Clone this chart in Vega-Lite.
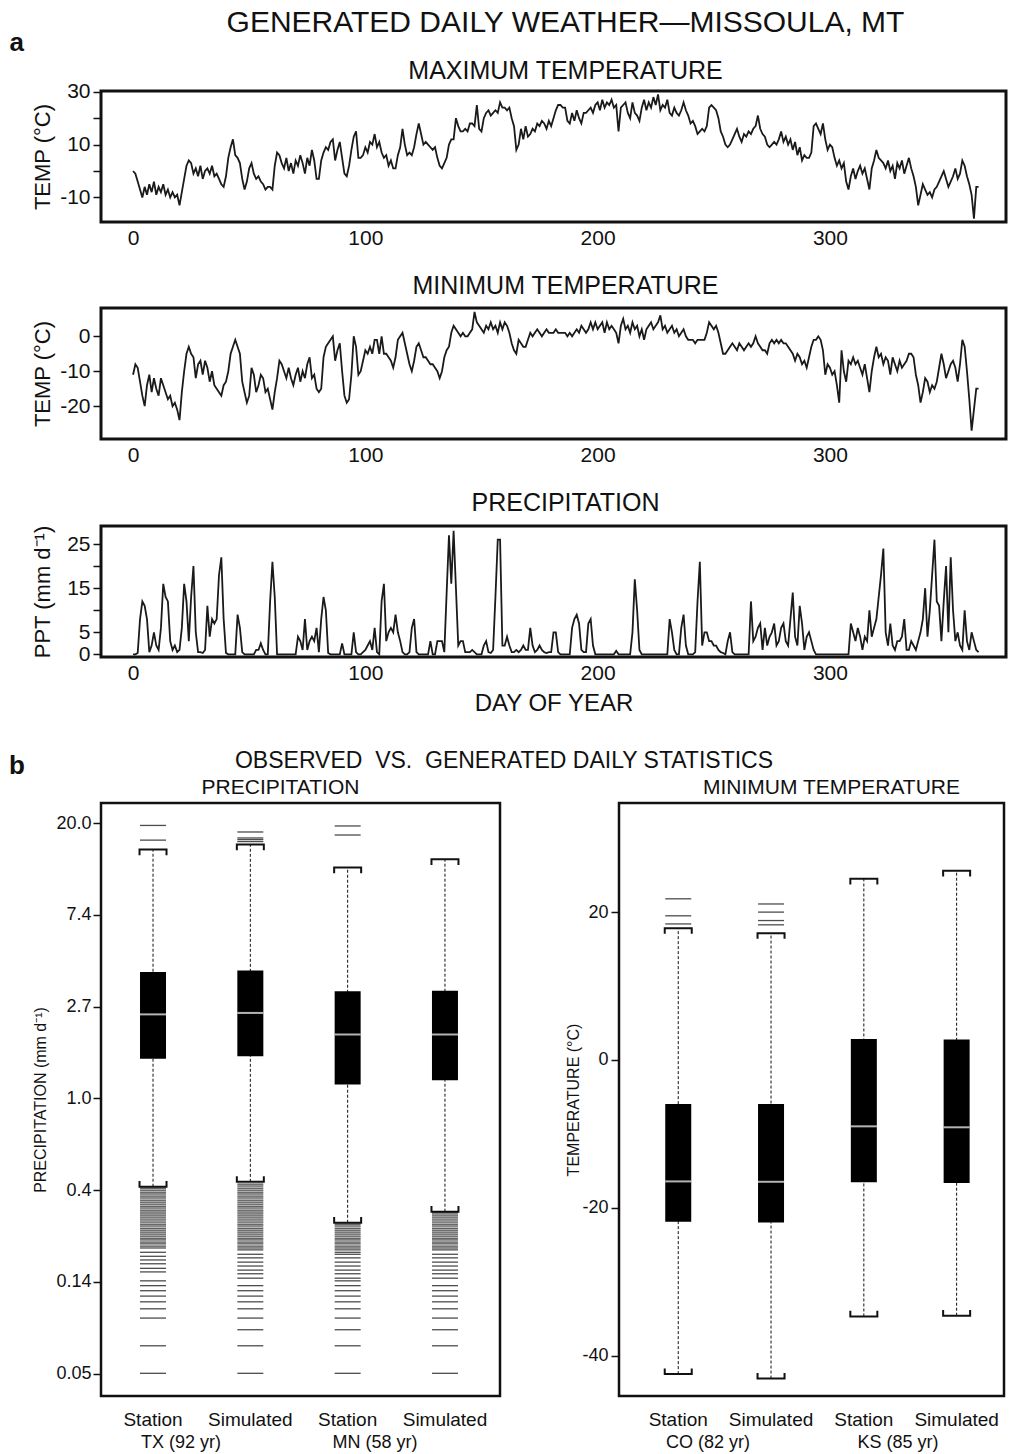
{
"$schema": "https://vega.github.io/schema/vega-lite/v6.json",
"background": "white",
"padding": {"left": 8, "top": 6, "right": 0, "bottom": 0},
"config": {
  "font": "Liberation Sans",
  "view": {"stroke": "#111", "strokeWidth": 3},
  "axis": {"domain": false, "grid": false, "labelColor": "#111", "titleColor": "#111", "tickColor": "#111", "tickWidth": 1.5, "titleFontWeight": "normal"},
  "title": {"color": "#111", "subtitleColor": "#111", "fontWeight": "normal", "anchor": "middle"}
},
"datasets": {
"wx": [
{"day":0,"tmax":0,"tmin":-11,"ppt":0},{"day":1,"tmax":-1,"tmin":-8,"ppt":0},{"day":2,"tmax":-4,"tmin":-9,"ppt":0.3},{"day":3,"tmax":-7,"tmin":-13,"ppt":8},{"day":4,"tmax":-10,"tmin":-17,"ppt":12},{"day":5,"tmax":-6,"tmin":-20,"ppt":11},{"day":6,"tmax":-9,"tmin":-14,"ppt":8},{"day":7,"tmax":-5,"tmin":-11,"ppt":0.5},{"day":8,"tmax":-8,"tmin":-16,"ppt":2},{"day":9,"tmax":-4,"tmin":-12,"ppt":5},
{"day":10,"tmax":-9,"tmin":-15,"ppt":2},{"day":11,"tmax":-6,"tmin":-17,"ppt":1},{"day":12,"tmax":-8,"tmin":-12,"ppt":6},{"day":13,"tmax":-5,"tmin":-14,"ppt":16},{"day":14,"tmax":-9,"tmin":-16,"ppt":13},{"day":15,"tmax":-7,"tmin":-18,"ppt":12},{"day":16,"tmax":-10,"tmin":-17,"ppt":3},{"day":17,"tmax":-8,"tmin":-20,"ppt":1},{"day":18,"tmax":-10,"tmin":-19,"ppt":2},{"day":19,"tmax":-9,"tmin":-21,"ppt":0.5},
{"day":20,"tmax":-13,"tmin":-24,"ppt":1},{"day":21,"tmax":-8,"tmin":-16,"ppt":6},{"day":22,"tmax":-3,"tmin":-10,"ppt":16},{"day":23,"tmax":2,"tmin":-5,"ppt":12},{"day":24,"tmax":4,"tmin":-3,"ppt":3},{"day":25,"tmax":3,"tmin":-5,"ppt":13},{"day":26,"tmax":-1,"tmin":-6,"ppt":20},{"day":27,"tmax":1,"tmin":-12,"ppt":5},{"day":28,"tmax":-2,"tmin":-8,"ppt":0.5},{"day":29,"tmax":2,"tmin":-7,"ppt":0.5},
{"day":30,"tmax":-3,"tmin":-11,"ppt":0.3},{"day":31,"tmax":0,"tmin":-7,"ppt":1},{"day":32,"tmax":1,"tmin":-9,"ppt":11},{"day":33,"tmax":-1,"tmin":-13,"ppt":4},{"day":34,"tmax":2,"tmin":-10,"ppt":8},{"day":35,"tmax":-2,"tmin":-14,"ppt":7},{"day":36,"tmax":-1,"tmin":-15,"ppt":8},{"day":37,"tmax":-3,"tmin":-16,"ppt":18},{"day":38,"tmax":-5,"tmin":-17,"ppt":22},{"day":39,"tmax":-6,"tmin":-14,"ppt":8},
{"day":40,"tmax":-2,"tmin":-13,"ppt":0.3},{"day":41,"tmax":5,"tmin":-10,"ppt":0},{"day":42,"tmax":9,"tmin":-5,"ppt":0},{"day":43,"tmax":12,"tmin":-3,"ppt":0},{"day":44,"tmax":6,"tmin":-1,"ppt":0},{"day":45,"tmax":5,"tmin":-3,"ppt":9},{"day":46,"tmax":3,"tmin":-5,"ppt":6},{"day":47,"tmax":-3,"tmin":-13,"ppt":0.5},{"day":48,"tmax":-7,"tmin":-16,"ppt":0},{"day":49,"tmax":-4,"tmin":-19,"ppt":0},
{"day":50,"tmax":1,"tmin":-17,"ppt":0},{"day":51,"tmax":3,"tmin":-9,"ppt":0},{"day":52,"tmax":-1,"tmin":-11,"ppt":0},{"day":53,"tmax":-3,"tmin":-16,"ppt":1},{"day":54,"tmax":-2,"tmin":-14,"ppt":1},{"day":55,"tmax":-4,"tmin":-11,"ppt":2.5},{"day":56,"tmax":-5,"tmin":-12,"ppt":1},{"day":57,"tmax":-7,"tmin":-16,"ppt":0},{"day":58,"tmax":-6,"tmin":-15,"ppt":0},{"day":59,"tmax":-6,"tmin":-18,"ppt":12},
{"day":60,"tmax":-7,"tmin":-21,"ppt":21},{"day":61,"tmax":2,"tmin":-16,"ppt":13},{"day":62,"tmax":7,"tmin":-12,"ppt":0},{"day":63,"tmax":6,"tmin":-7,"ppt":0},{"day":64,"tmax":3,"tmin":-8,"ppt":0},{"day":65,"tmax":1,"tmin":-10,"ppt":0},{"day":66,"tmax":5,"tmin":-12,"ppt":0},{"day":67,"tmax":0,"tmin":-9,"ppt":0},{"day":68,"tmax":3,"tmin":-12,"ppt":0},{"day":69,"tmax":-1,"tmin":-14,"ppt":0},
{"day":70,"tmax":4,"tmin":-11,"ppt":0},{"day":71,"tmax":2,"tmin":-9,"ppt":4},{"day":72,"tmax":6,"tmin":-13,"ppt":3},{"day":73,"tmax":3,"tmin":-10,"ppt":1},{"day":74,"tmax":-1,"tmin":-12,"ppt":8},{"day":75,"tmax":5,"tmin":-8,"ppt":1},{"day":76,"tmax":2,"tmin":-6,"ppt":3},{"day":77,"tmax":8,"tmin":-12,"ppt":4},{"day":78,"tmax":4,"tmin":-11,"ppt":3},{"day":79,"tmax":-3,"tmin":-15,"ppt":6},
{"day":80,"tmax":-3,"tmin":-16,"ppt":0.5},{"day":81,"tmax":4,"tmin":-15,"ppt":8},{"day":82,"tmax":7,"tmin":-6,"ppt":13},{"day":83,"tmax":9,"tmin":-3,"ppt":10},{"day":84,"tmax":8,"tmin":-2,"ppt":0.3},{"day":85,"tmax":11,"tmin":-1,"ppt":0},{"day":86,"tmax":12,"tmin":0,"ppt":0},{"day":87,"tmax":4,"tmin":-7,"ppt":0},{"day":88,"tmax":8,"tmin":-4,"ppt":0},{"day":89,"tmax":11,"tmin":-2,"ppt":0},
{"day":90,"tmax":5,"tmin":-10,"ppt":2.5},{"day":91,"tmax":-1,"tmin":-17,"ppt":0},{"day":92,"tmax":-2,"tmin":-19,"ppt":0},{"day":93,"tmax":2,"tmin":-18,"ppt":0},{"day":94,"tmax":8,"tmin":-11,"ppt":0},{"day":95,"tmax":13,"tmin":0,"ppt":5},{"day":96,"tmax":15,"tmin":-3,"ppt":0.5},{"day":97,"tmax":5,"tmin":-11,"ppt":0},{"day":98,"tmax":5,"tmin":-10,"ppt":0},{"day":99,"tmax":6,"tmin":-7,"ppt":0.5},
{"day":100,"tmax":9,"tmin":-4,"ppt":1},{"day":101,"tmax":7,"tmin":-5,"ppt":2},{"day":102,"tmax":11,"tmin":-3,"ppt":3},{"day":103,"tmax":10,"tmin":-5,"ppt":1},{"day":104,"tmax":14,"tmin":-1,"ppt":6},{"day":105,"tmax":9,"tmin":-1,"ppt":0.5},{"day":106,"tmax":11,"tmin":-5,"ppt":0},{"day":107,"tmax":7,"tmin":0,"ppt":12},{"day":108,"tmax":5,"tmin":-5,"ppt":16},{"day":109,"tmax":6,"tmin":-5,"ppt":3},
{"day":110,"tmax":2,"tmin":-6,"ppt":5},{"day":111,"tmax":4,"tmin":-7,"ppt":6},{"day":112,"tmax":1,"tmin":-9,"ppt":5},{"day":113,"tmax":1,"tmin":-6,"ppt":9},{"day":114,"tmax":6,"tmin":-1,"ppt":5},{"day":115,"tmax":9,"tmin":0,"ppt":3},{"day":116,"tmax":16,"tmin":1,"ppt":0.5},{"day":117,"tmax":10,"tmin":-2,"ppt":0},{"day":118,"tmax":6,"tmin":-5,"ppt":0},{"day":119,"tmax":7,"tmin":-8,"ppt":0.5},
{"day":120,"tmax":6,"tmin":-10,"ppt":6},{"day":121,"tmax":9,"tmin":-7,"ppt":8},{"day":122,"tmax":14,"tmin":-3,"ppt":0.5},{"day":123,"tmax":18,"tmin":-2,"ppt":0},{"day":124,"tmax":14,"tmin":-4,"ppt":0},{"day":125,"tmax":10,"tmin":-6,"ppt":0},{"day":126,"tmax":11,"tmin":-6,"ppt":0},{"day":127,"tmax":10,"tmin":-7,"ppt":0},{"day":128,"tmax":9,"tmin":-8,"ppt":3},{"day":129,"tmax":8,"tmin":-8,"ppt":0},
{"day":130,"tmax":9,"tmin":-9,"ppt":0},{"day":131,"tmax":5,"tmin":-10,"ppt":3},{"day":132,"tmax":2,"tmin":-12,"ppt":3},{"day":133,"tmax":1,"tmin":-10,"ppt":3},{"day":134,"tmax":3,"tmin":-6,"ppt":0.5},{"day":135,"tmax":5,"tmin":-4,"ppt":14},{"day":136,"tmax":10,"tmin":-3,"ppt":27},{"day":137,"tmax":12,"tmin":1,"ppt":16},{"day":138,"tmax":12,"tmin":3,"ppt":28},{"day":139,"tmax":20,"tmin":2,"ppt":15},
{"day":140,"tmax":17,"tmin":1,"ppt":2},{"day":141,"tmax":15,"tmin":0,"ppt":3},{"day":142,"tmax":15,"tmin":1,"ppt":3},{"day":143,"tmax":16,"tmin":0,"ppt":0.5},{"day":144,"tmax":15,"tmin":0,"ppt":0.5},{"day":145,"tmax":18,"tmin":1,"ppt":0.5},{"day":146,"tmax":18,"tmin":2,"ppt":1},{"day":147,"tmax":17,"tmin":7,"ppt":0.5},{"day":148,"tmax":25,"tmin":4,"ppt":0},{"day":149,"tmax":16,"tmin":3,"ppt":0},
{"day":150,"tmax":15,"tmin":2,"ppt":0},{"day":151,"tmax":20,"tmin":1,"ppt":2},{"day":152,"tmax":22,"tmin":3,"ppt":3},{"day":153,"tmax":23,"tmin":2,"ppt":0.5},{"day":154,"tmax":21,"tmin":4,"ppt":0.3},{"day":155,"tmax":22,"tmin":2,"ppt":1},{"day":156,"tmax":23,"tmin":3,"ppt":13},{"day":157,"tmax":22,"tmin":1,"ppt":26},{"day":158,"tmax":26,"tmin":4,"ppt":26},{"day":159,"tmax":24,"tmin":2,"ppt":2},
{"day":160,"tmax":24,"tmin":4,"ppt":2},{"day":161,"tmax":23,"tmin":3,"ppt":4},{"day":162,"tmax":24,"tmin":1,"ppt":2},{"day":163,"tmax":20,"tmin":-2,"ppt":0.5},{"day":164,"tmax":17,"tmin":-4,"ppt":0.5},{"day":165,"tmax":8,"tmin":-5,"ppt":1},{"day":166,"tmax":10,"tmin":-1,"ppt":0.5},{"day":167,"tmax":16,"tmin":-2,"ppt":1},{"day":168,"tmax":12,"tmin":-3,"ppt":2},{"day":169,"tmax":17,"tmin":-3,"ppt":1},
{"day":170,"tmax":13,"tmin":-1,"ppt":1},{"day":171,"tmax":14,"tmin":1,"ppt":6},{"day":172,"tmax":16,"tmin":0,"ppt":2},{"day":173,"tmax":15,"tmin":1,"ppt":0.5},{"day":174,"tmax":18,"tmin":2,"ppt":1},{"day":175,"tmax":17,"tmin":1,"ppt":2},{"day":176,"tmax":19,"tmin":0,"ppt":1},{"day":177,"tmax":18,"tmin":1,"ppt":0.5},{"day":178,"tmax":16,"tmin":2,"ppt":0.3},{"day":179,"tmax":19,"tmin":1,"ppt":0.5},
{"day":180,"tmax":17,"tmin":1,"ppt":0.5},{"day":181,"tmax":20,"tmin":1,"ppt":5},{"day":182,"tmax":23,"tmin":2,"ppt":5},{"day":183,"tmax":25,"tmin":1,"ppt":0.5},{"day":184,"tmax":25,"tmin":1,"ppt":0},{"day":185,"tmax":24,"tmin":1,"ppt":0},{"day":186,"tmax":24,"tmin":1,"ppt":0},{"day":187,"tmax":19,"tmin":0,"ppt":0},{"day":188,"tmax":18,"tmin":1,"ppt":0},{"day":189,"tmax":22,"tmin":0,"ppt":6},
{"day":190,"tmax":19,"tmin":1,"ppt":8},{"day":191,"tmax":23,"tmin":2,"ppt":9},{"day":192,"tmax":20,"tmin":1,"ppt":7},{"day":193,"tmax":18,"tmin":3,"ppt":1},{"day":194,"tmax":22,"tmin":2,"ppt":0.5},{"day":195,"tmax":22,"tmin":1,"ppt":0.5},{"day":196,"tmax":23,"tmin":2,"ppt":7},{"day":197,"tmax":24,"tmin":4,"ppt":8},{"day":198,"tmax":22,"tmin":2,"ppt":2},{"day":199,"tmax":25,"tmin":4,"ppt":0},
{"day":200,"tmax":26,"tmin":2,"ppt":0},{"day":201,"tmax":23,"tmin":3,"ppt":0},{"day":202,"tmax":27,"tmin":4,"ppt":0},{"day":203,"tmax":24,"tmin":1,"ppt":0},{"day":204,"tmax":26,"tmin":4,"ppt":0},{"day":205,"tmax":25,"tmin":2,"ppt":0},{"day":206,"tmax":27,"tmin":3,"ppt":0},{"day":207,"tmax":24,"tmin":2,"ppt":0},{"day":208,"tmax":25,"tmin":1,"ppt":0.8},{"day":209,"tmax":15,"tmin":-2,"ppt":0},
{"day":210,"tmax":24,"tmin":3,"ppt":0},{"day":211,"tmax":25,"tmin":5,"ppt":0},{"day":212,"tmax":26,"tmin":2,"ppt":0},{"day":213,"tmax":22,"tmin":3,"ppt":0},{"day":214,"tmax":20,"tmin":1,"ppt":0},{"day":215,"tmax":26,"tmin":4,"ppt":5},{"day":216,"tmax":22,"tmin":2,"ppt":17},{"day":217,"tmax":21,"tmin":3,"ppt":10},{"day":218,"tmax":19,"tmin":0,"ppt":1},{"day":219,"tmax":24,"tmin":2,"ppt":0},
{"day":220,"tmax":27,"tmin":-1,"ppt":0},{"day":221,"tmax":23,"tmin":2,"ppt":0},{"day":222,"tmax":26,"tmin":3,"ppt":0},{"day":223,"tmax":24,"tmin":4,"ppt":0},{"day":224,"tmax":28,"tmin":2,"ppt":0},{"day":225,"tmax":25,"tmin":3,"ppt":0},{"day":226,"tmax":29,"tmin":4,"ppt":0},{"day":227,"tmax":23,"tmin":6,"ppt":0},{"day":228,"tmax":25,"tmin":2,"ppt":0},{"day":229,"tmax":24,"tmin":3,"ppt":0},
{"day":230,"tmax":27,"tmin":1,"ppt":0},{"day":231,"tmax":22,"tmin":2,"ppt":8},{"day":232,"tmax":21,"tmin":3,"ppt":5},{"day":233,"tmax":24,"tmin":1,"ppt":1},{"day":234,"tmax":22,"tmin":2,"ppt":0},{"day":235,"tmax":21,"tmin":0,"ppt":0},{"day":236,"tmax":23,"tmin":1,"ppt":6},{"day":237,"tmax":26,"tmin":2,"ppt":9},{"day":238,"tmax":23,"tmin":0,"ppt":2},{"day":239,"tmax":21,"tmin":-1,"ppt":0},
{"day":240,"tmax":18,"tmin":-1,"ppt":0},{"day":241,"tmax":19,"tmin":-1,"ppt":0},{"day":242,"tmax":17,"tmin":-2,"ppt":0.5},{"day":243,"tmax":14,"tmin":-1,"ppt":12},{"day":244,"tmax":15,"tmin":-1,"ppt":21},{"day":245,"tmax":16,"tmin":-1,"ppt":2},{"day":246,"tmax":15,"tmin":-1,"ppt":5},{"day":247,"tmax":17,"tmin":1,"ppt":5},{"day":248,"tmax":24,"tmin":4,"ppt":3},{"day":249,"tmax":25,"tmin":3,"ppt":3},
{"day":250,"tmax":24,"tmin":2,"ppt":2},{"day":251,"tmax":23,"tmin":3,"ppt":2},{"day":252,"tmax":20,"tmin":1,"ppt":1},{"day":253,"tmax":15,"tmin":-2,"ppt":0.5},{"day":254,"tmax":13,"tmin":-5,"ppt":0.3},{"day":255,"tmax":10,"tmin":-5,"ppt":0},{"day":256,"tmax":9,"tmin":-4,"ppt":3},{"day":257,"tmax":10,"tmin":-3,"ppt":5},{"day":258,"tmax":12,"tmin":-2,"ppt":0.5},{"day":259,"tmax":14,"tmin":-3,"ppt":0},
{"day":260,"tmax":16,"tmin":-4,"ppt":0},{"day":261,"tmax":13,"tmin":-2,"ppt":0},{"day":262,"tmax":11,"tmin":-3,"ppt":0},{"day":263,"tmax":14,"tmin":-4,"ppt":0},{"day":264,"tmax":13,"tmin":-3,"ppt":0},{"day":265,"tmax":15,"tmin":-2,"ppt":0},{"day":266,"tmax":14,"tmin":-3,"ppt":12},{"day":267,"tmax":16,"tmin":-2,"ppt":3},{"day":268,"tmax":17,"tmin":0,"ppt":4},{"day":269,"tmax":21,"tmin":-2,"ppt":6},
{"day":270,"tmax":16,"tmin":-3,"ppt":7},{"day":271,"tmax":14,"tmin":-4,"ppt":1},{"day":272,"tmax":13,"tmin":-4,"ppt":6},{"day":273,"tmax":10,"tmin":-5,"ppt":2},{"day":274,"tmax":9,"tmin":-2,"ppt":4},{"day":275,"tmax":10,"tmin":-1,"ppt":5},{"day":276,"tmax":11,"tmin":-2,"ppt":7},{"day":277,"tmax":10,"tmin":-1,"ppt":2},{"day":278,"tmax":12,"tmin":-2,"ppt":3},{"day":279,"tmax":15,"tmin":-1,"ppt":6},
{"day":280,"tmax":11,"tmin":-2,"ppt":7},{"day":281,"tmax":13,"tmin":-2,"ppt":3},{"day":282,"tmax":10,"tmin":-3,"ppt":2},{"day":283,"tmax":12,"tmin":-4,"ppt":8},{"day":284,"tmax":8,"tmin":-5,"ppt":14},{"day":285,"tmax":11,"tmin":-7,"ppt":4},{"day":286,"tmax":6,"tmin":-5,"ppt":2},{"day":287,"tmax":9,"tmin":-6,"ppt":11},{"day":288,"tmax":4,"tmin":-8,"ppt":7},{"day":289,"tmax":6,"tmin":-7,"ppt":1},
{"day":290,"tmax":5,"tmin":-9,"ppt":4},{"day":291,"tmax":5,"tmin":-6,"ppt":5},{"day":292,"tmax":7,"tmin":-3,"ppt":3},{"day":293,"tmax":17,"tmin":-1,"ppt":1},{"day":294,"tmax":18,"tmin":-1,"ppt":0},{"day":295,"tmax":16,"tmin":0,"ppt":0},{"day":296,"tmax":14,"tmin":-1,"ppt":0},{"day":297,"tmax":18,"tmin":-4,"ppt":0},{"day":298,"tmax":12,"tmin":-11,"ppt":0},{"day":299,"tmax":8,"tmin":-8,"ppt":0},
{"day":300,"tmax":10,"tmin":-9,"ppt":0},{"day":301,"tmax":9,"tmin":-11,"ppt":0},{"day":302,"tmax":5,"tmin":-10,"ppt":0},{"day":303,"tmax":2,"tmin":-14,"ppt":0},{"day":304,"tmax":4,"tmin":-19,"ppt":0},{"day":305,"tmax":1,"tmin":-4,"ppt":0},{"day":306,"tmax":3,"tmin":-10,"ppt":0},{"day":307,"tmax":-4,"tmin":-13,"ppt":0},{"day":308,"tmax":-7,"tmin":-7,"ppt":0},{"day":309,"tmax":-2,"tmin":-8,"ppt":7},
{"day":310,"tmax":1,"tmin":-6,"ppt":5},{"day":311,"tmax":-3,"tmin":-8,"ppt":3},{"day":312,"tmax":0,"tmin":-7,"ppt":6},{"day":313,"tmax":2,"tmin":-9,"ppt":4},{"day":314,"tmax":-1,"tmin":-11,"ppt":1},{"day":315,"tmax":1,"tmin":-8,"ppt":4},{"day":316,"tmax":-3,"tmin":-12,"ppt":3},{"day":317,"tmax":-7,"tmin":-16,"ppt":10},{"day":318,"tmax":1,"tmin":-10,"ppt":4},{"day":319,"tmax":4,"tmin":-6,"ppt":6},
{"day":320,"tmax":8,"tmin":-3,"ppt":8},{"day":321,"tmax":5,"tmin":-6,"ppt":13},{"day":322,"tmax":4,"tmin":-5,"ppt":18},{"day":323,"tmax":3,"tmin":-8,"ppt":24},{"day":324,"tmax":1,"tmin":-6,"ppt":5},{"day":325,"tmax":4,"tmin":-7,"ppt":2},{"day":326,"tmax":0,"tmin":-11,"ppt":7},{"day":327,"tmax":2,"tmin":-6,"ppt":2},{"day":328,"tmax":-3,"tmin":-8,"ppt":1},{"day":329,"tmax":3,"tmin":-10,"ppt":3},
{"day":330,"tmax":1,"tmin":-7,"ppt":3},{"day":331,"tmax":4,"tmin":-9,"ppt":4},{"day":332,"tmax":-1,"tmin":-8,"ppt":8},{"day":333,"tmax":2,"tmin":-7,"ppt":1},{"day":334,"tmax":5,"tmin":-5,"ppt":1},{"day":335,"tmax":1,"tmin":-5,"ppt":3},{"day":336,"tmax":-2,"tmin":-6,"ppt":2},{"day":337,"tmax":-6,"tmin":-11,"ppt":1},{"day":338,"tmax":-13,"tmin":-14,"ppt":3},{"day":339,"tmax":-9,"tmin":-19,"ppt":5},
{"day":340,"tmax":-5,"tmin":-16,"ppt":8},{"day":341,"tmax":-7,"tmin":-12,"ppt":15},{"day":342,"tmax":-9,"tmin":-13,"ppt":4},{"day":343,"tmax":-8,"tmin":-16,"ppt":10},{"day":344,"tmax":-10,"tmin":-14,"ppt":18},{"day":345,"tmax":-7,"tmin":-15,"ppt":26},{"day":346,"tmax":-6,"tmin":-13,"ppt":12},{"day":347,"tmax":-4,"tmin":-9,"ppt":11},{"day":348,"tmax":-2,"tmin":-5,"ppt":3},{"day":349,"tmax":0,"tmin":-8,"ppt":12},
{"day":350,"tmax":-3,"tmin":-12,"ppt":20},{"day":351,"tmax":-6,"tmin":-10,"ppt":5},{"day":352,"tmax":-4,"tmin":-8,"ppt":22},{"day":353,"tmax":-2,"tmin":-7,"ppt":10},{"day":354,"tmax":1,"tmin":-9,"ppt":3},{"day":355,"tmax":-3,"tmin":-13,"ppt":5},{"day":356,"tmax":-1,"tmin":-8,"ppt":2},{"day":357,"tmax":4,"tmin":-1,"ppt":1},{"day":358,"tmax":2,"tmin":-3,"ppt":10},{"day":359,"tmax":-2,"tmin":-10,"ppt":3},
{"day":360,"tmax":-5,"tmin":-18,"ppt":1},{"day":361,"tmax":-9,"tmin":-27,"ppt":5},{"day":362,"tmax":-18,"tmin":-21,"ppt":3},{"day":363,"tmax":-6,"tmin":-15,"ppt":1},{"day":364,"tmax":-6,"tmin":-15,"ppt":0.5}
],
"pbox": [
{"g":"TX Station","lo":0.382,"q1":1.54,"med":2.5,"q3":3.97,"hi":15.06},
{"g":"TX Simulated","lo":0.403,"q1":1.585,"med":2.54,"q3":4.03,"hi":15.91},
{"g":"MN Station","lo":0.258,"q1":1.165,"med":2.008,"q3":3.22,"hi":12.38},
{"g":"MN Simulated","lo":0.291,"q1":1.22,"med":2.008,"q3":3.23,"hi":13.55}
],
"pout": [
{"g":"TX Station","v":19.6},{"g":"TX Station","v":16.7},{"g":"TX Station","v":0.376},{"g":"TX Station","v":0.368},{"g":"TX Station","v":0.36},{"g":"TX Station","v":0.353},{"g":"TX Station","v":0.345},{"g":"TX Station","v":0.338},{"g":"TX Station","v":0.33},{"g":"TX Station","v":0.323},{"g":"TX Station","v":0.316},{"g":"TX Station","v":0.309},{"g":"TX Station","v":0.303},{"g":"TX Station","v":0.296},{"g":"TX Station","v":0.29},{"g":"TX Station","v":0.284},{"g":"TX Station","v":0.278},{"g":"TX Station","v":0.272},{"g":"TX Station","v":0.266},{"g":"TX Station","v":0.26},{"g":"TX Station","v":0.254},{"g":"TX Station","v":0.249},{"g":"TX Station","v":0.243},{"g":"TX Station","v":0.238},{"g":"TX Station","v":0.233},{"g":"TX Station","v":0.228},{"g":"TX Station","v":0.223},{"g":"TX Station","v":0.218},{"g":"TX Station","v":0.214},{"g":"TX Station","v":0.209},{"g":"TX Station","v":0.205},{"g":"TX Station","v":0.2},{"g":"TX Station","v":0.196},{"g":"TX Station","v":0.187},{"g":"TX Station","v":0.179},{"g":"TX Station","v":0.172},{"g":"TX Station","v":0.165},{"g":"TX Station","v":0.157},{"g":"TX Station","v":0.151},{"g":"TX Station","v":0.137},{"g":"TX Station","v":0.13},{"g":"TX Station","v":0.123},{"g":"TX Station","v":0.116},{"g":"TX Station","v":0.109},{"g":"TX Station","v":0.101},{"g":"TX Station","v":0.0913},{"g":"TX Station","v":0.0675},{"g":"TX Station","v":0.05},
{"g":"TX Simulated","v":18.25},{"g":"TX Simulated","v":17.1},{"g":"TX Simulated","v":16.8},{"g":"TX Simulated","v":16.44},{"g":"TX Simulated","v":0.393},{"g":"TX Simulated","v":0.385},{"g":"TX Simulated","v":0.376},{"g":"TX Simulated","v":0.368},{"g":"TX Simulated","v":0.36},{"g":"TX Simulated","v":0.353},{"g":"TX Simulated","v":0.345},{"g":"TX Simulated","v":0.338},{"g":"TX Simulated","v":0.33},{"g":"TX Simulated","v":0.323},{"g":"TX Simulated","v":0.316},{"g":"TX Simulated","v":0.309},{"g":"TX Simulated","v":0.303},{"g":"TX Simulated","v":0.296},{"g":"TX Simulated","v":0.29},{"g":"TX Simulated","v":0.284},{"g":"TX Simulated","v":0.278},{"g":"TX Simulated","v":0.272},{"g":"TX Simulated","v":0.266},{"g":"TX Simulated","v":0.26},{"g":"TX Simulated","v":0.254},{"g":"TX Simulated","v":0.249},{"g":"TX Simulated","v":0.243},{"g":"TX Simulated","v":0.238},{"g":"TX Simulated","v":0.233},{"g":"TX Simulated","v":0.228},{"g":"TX Simulated","v":0.223},{"g":"TX Simulated","v":0.218},{"g":"TX Simulated","v":0.214},{"g":"TX Simulated","v":0.209},{"g":"TX Simulated","v":0.205},{"g":"TX Simulated","v":0.2},{"g":"TX Simulated","v":0.196},{"g":"TX Simulated","v":0.192},{"g":"TX Simulated","v":0.183},{"g":"TX Simulated","v":0.176},{"g":"TX Simulated","v":0.168},{"g":"TX Simulated","v":0.161},{"g":"TX Simulated","v":0.154},{"g":"TX Simulated","v":0.148},{"g":"TX Simulated","v":0.141},{"g":"TX Simulated","v":0.13},{"g":"TX Simulated","v":0.123},{"g":"TX Simulated","v":0.116},{"g":"TX Simulated","v":0.109},{"g":"TX Simulated","v":0.101},{"g":"TX Simulated","v":0.0913},{"g":"TX Simulated","v":0.0804},{"g":"TX Simulated","v":0.0675},{"g":"TX Simulated","v":0.05},
{"g":"MN Station","v":19.49},{"g":"MN Station","v":17.66},{"g":"MN Station","v":0.254},{"g":"MN Station","v":0.249},{"g":"MN Station","v":0.243},{"g":"MN Station","v":0.238},{"g":"MN Station","v":0.233},{"g":"MN Station","v":0.228},{"g":"MN Station","v":0.223},{"g":"MN Station","v":0.218},{"g":"MN Station","v":0.214},{"g":"MN Station","v":0.209},{"g":"MN Station","v":0.205},{"g":"MN Station","v":0.2},{"g":"MN Station","v":0.196},{"g":"MN Station","v":0.192},{"g":"MN Station","v":0.187},{"g":"MN Station","v":0.183},{"g":"MN Station","v":0.176},{"g":"MN Station","v":0.168},{"g":"MN Station","v":0.161},{"g":"MN Station","v":0.154},{"g":"MN Station","v":0.148},{"g":"MN Station","v":0.141},{"g":"MN Station","v":0.137},{"g":"MN Station","v":0.13},{"g":"MN Station","v":0.123},{"g":"MN Station","v":0.116},{"g":"MN Station","v":0.109},{"g":"MN Station","v":0.101},{"g":"MN Station","v":0.0913},{"g":"MN Station","v":0.0804},{"g":"MN Station","v":0.0675},{"g":"MN Station","v":0.05},
{"g":"MN Simulated","v":0.29},{"g":"MN Simulated","v":0.284},{"g":"MN Simulated","v":0.278},{"g":"MN Simulated","v":0.272},{"g":"MN Simulated","v":0.266},{"g":"MN Simulated","v":0.26},{"g":"MN Simulated","v":0.254},{"g":"MN Simulated","v":0.249},{"g":"MN Simulated","v":0.243},{"g":"MN Simulated","v":0.238},{"g":"MN Simulated","v":0.233},{"g":"MN Simulated","v":0.228},{"g":"MN Simulated","v":0.223},{"g":"MN Simulated","v":0.218},{"g":"MN Simulated","v":0.214},{"g":"MN Simulated","v":0.209},{"g":"MN Simulated","v":0.205},{"g":"MN Simulated","v":0.2},{"g":"MN Simulated","v":0.196},{"g":"MN Simulated","v":0.192},{"g":"MN Simulated","v":0.183},{"g":"MN Simulated","v":0.176},{"g":"MN Simulated","v":0.168},{"g":"MN Simulated","v":0.161},{"g":"MN Simulated","v":0.154},{"g":"MN Simulated","v":0.148},{"g":"MN Simulated","v":0.141},{"g":"MN Simulated","v":0.13},{"g":"MN Simulated","v":0.123},{"g":"MN Simulated","v":0.116},{"g":"MN Simulated","v":0.109},{"g":"MN Simulated","v":0.101},{"g":"MN Simulated","v":0.0913},{"g":"MN Simulated","v":0.0804},{"g":"MN Simulated","v":0.0675},{"g":"MN Simulated","v":0.05}
],
"tbox": [
{"g":"CO Station","lo":-42.5,"q1":-21.9,"med":-16.43,"q3":-5.96,"hi":17.83},
{"g":"CO Simulated","lo":-43.1,"q1":-21.98,"med":-16.48,"q3":-5.96,"hi":17.15},
{"g":"KS Station","lo":-34.7,"q1":-16.56,"med":-8.98,"q3":2.84,"hi":24.51},
{"g":"KS Simulated","lo":-34.6,"q1":-16.66,"med":-9.11,"q3":2.75,"hi":25.59}
],
"tout": [
{"g":"CO Station","v":21.8},{"g":"CO Station","v":19.5},{"g":"CO Station","v":18.4},
{"g":"CO Simulated","v":21.1},{"g":"CO Simulated","v":20.0},{"g":"CO Simulated","v":18.86},{"g":"CO Simulated","v":18.28}
]
},
"spacing": 32,
"vconcat": [
{
  "title": {"text": "a", "orient": "left", "anchor": "end", "angle": 0, "fontSize": 26, "fontWeight": "bold", "frame": "bounds", "baseline": "top", "align": "right", "offset": -9, "dy": 24},
  "spacing": 22,
  "vconcat": [
    {
      "width": 905, "height": 131,
      "title": {"text": "GENERATED DAILY WEATHER—MISSOULA, MT", "subtitle": "MAXIMUM TEMPERATURE", "fontSize": 30, "subtitleFontSize": 25, "subtitlePadding": 21, "offset": -3, "dx": 12},
      "data": {"name": "wx"},
      "mark": {"type": "line", "color": "#1a1a1a", "strokeWidth": 1.8},
      "encoding": {
        "x": {"field": "day", "type": "quantitative", "scale": {"domain": [-13.8, 375.8], "nice": false, "zero": false}, "axis": {"values": [0, 100, 200, 300], "ticks": false, "labelFontSize": 21, "labelPadding": 5, "title": null, "labelFlush": false}},
        "y": {"field": "tmax", "type": "quantitative", "scale": {"domain": [-19.3, 30.3], "nice": false, "zero": false}, "axis": {"values": [-10, 0, 10, 20, 30], "labelExpr": "datum.value == 0 || datum.value == 20 ? '' : replace(datum.label, '\u2212', '-')", "tickSize": 8, "labelFontSize": 21, "labelPadding": 3, "title": "TEMP (°C)", "titleFontSize": 22, "titlePadding": 6, "minExtent": 41, "maxExtent": 41}}
      }
    },
    {
      "width": 905, "height": 131,
      "title": {"text": "MINIMUM TEMPERATURE", "fontSize": 25, "offset": 9, "dx": 12},
      "data": {"name": "wx"},
      "mark": {"type": "line", "color": "#1a1a1a", "strokeWidth": 1.8},
      "encoding": {
        "x": {"field": "day", "type": "quantitative", "scale": {"domain": [-13.8, 375.8], "nice": false, "zero": false}, "axis": {"values": [0, 100, 200, 300], "ticks": false, "labelFontSize": 21, "labelPadding": 5, "title": null, "labelFlush": false}},
        "y": {"field": "tmin", "type": "quantitative", "scale": {"domain": [-29.4, 8.1], "nice": false, "zero": false}, "axis": {"values": [-20, -10, 0], "labelExpr": "replace(datum.label, '\u2212', '-')", "tickSize": 8, "labelFontSize": 21, "labelPadding": 3, "title": "TEMP (°C)", "titleFontSize": 22, "titlePadding": 6, "minExtent": 41, "maxExtent": 41}}
      }
    },
    {
      "width": 905, "height": 131,
      "title": {"text": "PRECIPITATION", "fontSize": 25, "offset": 9, "dx": 12},
      "data": {"name": "wx"},
      "mark": {"type": "line", "color": "#1a1a1a", "strokeWidth": 1.8},
      "encoding": {
        "x": {"field": "day", "type": "quantitative", "scale": {"domain": [-13.8, 375.8], "nice": false, "zero": false}, "axis": {"values": [0, 100, 200, 300], "ticks": false, "labelFontSize": 21, "labelPadding": 5, "title": "DAY OF YEAR", "titleFontSize": 24, "titlePadding": 8, "labelFlush": false}},
        "y": {"field": "ppt", "type": "quantitative", "scale": {"domain": [-0.6, 29.1], "nice": false, "zero": false}, "axis": {"values": [0, 5, 10, 15, 20, 25], "labelExpr": "datum.value == 10 || datum.value == 20 ? '' : datum.label", "tickSize": 8, "labelFontSize": 21, "labelPadding": 3, "title": "PPT (mm d⁻¹)", "titleFontSize": 22, "titlePadding": 6, "minExtent": 41, "maxExtent": 41}}
      }
    }
  ]
},
{
  "title": {"text": "b", "orient": "left", "anchor": "end", "angle": 0, "fontSize": 26, "fontWeight": "bold", "frame": "bounds", "baseline": "top", "align": "right", "offset": -10, "dy": 3},
  "vconcat": [
    {
      "title": {"text": "OBSERVED\u00a0\u00a0VS.\u00a0\u00a0GENERATED DAILY STATISTICS", "fontSize": 23, "offset": 3, "dx": -14},
      "spacing": 61,
      "hconcat": [
        {
          "width": 399, "height": 593,
          "view": {"stroke": "#111", "strokeWidth": 2.5},
          "title": {"text": "PRECIPITATION", "fontSize": 21, "offset": 5, "dx": -20},
          "layer": [
            {
              "data": {"name": "pbox"},
              "layer": [
                {"mark": {"type": "rule", "strokeDash": [3, 2], "strokeWidth": 1, "color": "#111"},
                 "encoding": {
                   "x": {"field": "g", "type": "nominal", "sort": null, "scale": {"type": "band", "domain": ["TX Station", "TX Simulated", "MN Station", "MN Simulated"], "paddingInner": 0, "paddingOuter": 0.05, "align": 0.345}, "axis": {"labelExpr": "substring(datum.label, 3)", "ticks": false, "labelPadding": 14, "labelFontSize": 19, "labelAngle": 0, "title": null, "labelOverlap": false}},
                   "y": {"field": "lo", "type": "quantitative", "scale": {"type": "log", "base": 2.718281828, "domain": [0.03905, 25.03], "nice": false}, "axis": {"values": [0.049787, 0.135335, 0.367879, 1, 2.718282, 7.389056, 20.085537], "labelExpr": "datum.value > 15 ? '20.0' : (datum.value > 0.2 ? format(datum.value, '.1f') : format(datum.value, '.2f'))", "tickSize": 8, "labelFontSize": 18, "labelPadding": 2, "title": "PRECIPITATION (mm d⁻¹)", "titleFontSize": 16, "titlePadding": 7, "minExtent": 46, "maxExtent": 46, "labelOverlap": false}},
                   "y2": {"field": "hi"}
                 }},
                {"mark": {"type": "bar", "width": 26, "color": "#000"},
                 "encoding": {
                   "x": {"field": "g", "type": "nominal", "sort": null, "scale": {"type": "band", "domain": ["TX Station", "TX Simulated", "MN Station", "MN Simulated"], "paddingInner": 0, "paddingOuter": 0.05, "align": 0.345}},
                   "y": {"field": "q1", "type": "quantitative", "scale": {"type": "log", "base": 2.718281828, "domain": [0.03905, 25.03], "nice": false}},
                   "y2": {"field": "q3"}
                 }},
                {"mark": {"type": "tick", "color": "#fff", "thickness": 2, "size": 26},
                 "encoding": {
                   "x": {"field": "g", "type": "nominal", "sort": null, "scale": {"type": "band", "domain": ["TX Station", "TX Simulated", "MN Station", "MN Simulated"], "paddingInner": 0, "paddingOuter": 0.05, "align": 0.345}},
                   "y": {"field": "med", "type": "quantitative", "scale": {"type": "log", "base": 2.718281828, "domain": [0.03905, 25.03], "nice": false}}
                 }},
                {"mark": {"type": "point", "shape": "M-1,0.42L-1,0L1,0L1,0.42", "size": 729, "filled": false, "color": "#111", "strokeWidth": 2, "opacity": 1},
                 "encoding": {
                   "x": {"field": "g", "type": "nominal", "sort": null, "scale": {"type": "band", "domain": ["TX Station", "TX Simulated", "MN Station", "MN Simulated"], "paddingInner": 0, "paddingOuter": 0.05, "align": 0.345}},
                   "y": {"field": "hi", "type": "quantitative", "scale": {"type": "log", "base": 2.718281828, "domain": [0.03905, 25.03], "nice": false}}
                 }},
                {"mark": {"type": "point", "shape": "M-1,-0.42L-1,0L1,0L1,-0.42", "size": 729, "filled": false, "color": "#111", "strokeWidth": 2, "opacity": 1},
                 "encoding": {
                   "x": {"field": "g", "type": "nominal", "sort": null, "scale": {"type": "band", "domain": ["TX Station", "TX Simulated", "MN Station", "MN Simulated"], "paddingInner": 0, "paddingOuter": 0.05, "align": 0.345}},
                   "y": {"field": "lo", "type": "quantitative", "scale": {"type": "log", "base": 2.718281828, "domain": [0.03905, 25.03], "nice": false}}
                 }},
                {"data": {"name": "pout"},
                 "mark": {"type": "tick", "color": "#000", "thickness": 1.3, "size": 26},
                 "encoding": {
                   "x": {"field": "g", "type": "nominal", "sort": null, "scale": {"type": "band", "domain": ["TX Station", "TX Simulated", "MN Station", "MN Simulated"], "paddingInner": 0, "paddingOuter": 0.05, "align": 0.345}},
                   "y": {"field": "v", "type": "quantitative", "scale": {"type": "log", "base": 2.718281828, "domain": [0.03905, 25.03], "nice": false}}
                 }}
              ]
            },
            {
              "data": {"values": [{"site": "TX (92 yr)"}, {"site": "MN (58 yr)"}]},
              "mark": {"type": "text", "text": ""},
              "encoding": {
                "x": {"field": "site", "type": "nominal", "sort": null, "scale": {"type": "band", "domain": ["TX (92 yr)", "MN (58 yr)"], "paddingInner": 0.175, "paddingOuter": 0.116, "align": 0}, "axis": {"orient": "bottom", "ticks": false, "labelPadding": 37, "labelFontSize": 18, "labelAngle": 0, "title": null, "labelOverlap": false, "bandPosition": 0.5}}
              }
            }
          ],
          "resolve": {"scale": {"x": "independent"}, "axis": {"x": "independent"}}
        },
        {
          "width": 385, "height": 593,
          "view": {"stroke": "#111", "strokeWidth": 2.5},
          "title": {"text": "MINIMUM TEMPERATURE", "fontSize": 21, "offset": 5, "dx": 20},
          "layer": [
            {
              "data": {"name": "tbox"},
              "layer": [
                {"mark": {"type": "rule", "strokeDash": [3, 2], "strokeWidth": 1, "color": "#111"},
                 "encoding": {
                   "x": {"field": "g", "type": "nominal", "sort": null, "scale": {"type": "band", "domain": ["CO Station", "CO Simulated", "KS Station", "KS Simulated"], "paddingInner": 0, "paddingOuter": 0.0744, "align": 0.93}, "axis": {"labelExpr": "substring(datum.label, 3)", "ticks": false, "labelPadding": 14, "labelFontSize": 19, "labelAngle": 0, "title": null, "labelOverlap": false}},
                   "y": {"field": "lo", "type": "quantitative", "scale": {"domain": [-45.46, 34.76], "nice": false, "zero": false}, "axis": {"values": [-40, -20, 0, 20], "labelExpr": "replace(datum.label, '\u2212', '-')", "tickSize": 8, "labelFontSize": 18, "labelPadding": 3, "title": "TEMPERATURE (°C)", "titleFontSize": 16, "titlePadding": 1, "minExtent": 37, "maxExtent": 37}},
                   "y2": {"field": "hi"}
                 }},
                {"mark": {"type": "bar", "width": 26, "color": "#000"},
                 "encoding": {
                   "x": {"field": "g", "type": "nominal", "sort": null, "scale": {"type": "band", "domain": ["CO Station", "CO Simulated", "KS Station", "KS Simulated"], "paddingInner": 0, "paddingOuter": 0.0744, "align": 0.93}},
                   "y": {"field": "q1", "type": "quantitative", "scale": {"domain": [-45.46, 34.76], "nice": false, "zero": false}},
                   "y2": {"field": "q3"}
                 }},
                {"mark": {"type": "tick", "color": "#fff", "thickness": 2, "size": 26},
                 "encoding": {
                   "x": {"field": "g", "type": "nominal", "sort": null, "scale": {"type": "band", "domain": ["CO Station", "CO Simulated", "KS Station", "KS Simulated"], "paddingInner": 0, "paddingOuter": 0.0744, "align": 0.93}},
                   "y": {"field": "med", "type": "quantitative", "scale": {"domain": [-45.46, 34.76], "nice": false, "zero": false}}
                 }},
                {"mark": {"type": "point", "shape": "M-1,0.42L-1,0L1,0L1,0.42", "size": 729, "filled": false, "color": "#111", "strokeWidth": 2, "opacity": 1},
                 "encoding": {
                   "x": {"field": "g", "type": "nominal", "sort": null, "scale": {"type": "band", "domain": ["CO Station", "CO Simulated", "KS Station", "KS Simulated"], "paddingInner": 0, "paddingOuter": 0.0744, "align": 0.93}},
                   "y": {"field": "hi", "type": "quantitative", "scale": {"domain": [-45.46, 34.76], "nice": false, "zero": false}}
                 }},
                {"mark": {"type": "point", "shape": "M-1,-0.42L-1,0L1,0L1,-0.42", "size": 729, "filled": false, "color": "#111", "strokeWidth": 2, "opacity": 1},
                 "encoding": {
                   "x": {"field": "g", "type": "nominal", "sort": null, "scale": {"type": "band", "domain": ["CO Station", "CO Simulated", "KS Station", "KS Simulated"], "paddingInner": 0, "paddingOuter": 0.0744, "align": 0.93}},
                   "y": {"field": "lo", "type": "quantitative", "scale": {"domain": [-45.46, 34.76], "nice": false, "zero": false}}
                 }},
                {"data": {"name": "tout"},
                 "mark": {"type": "tick", "color": "#000", "thickness": 1.3, "size": 26},
                 "encoding": {
                   "x": {"field": "g", "type": "nominal", "sort": null, "scale": {"type": "band", "domain": ["CO Station", "CO Simulated", "KS Station", "KS Simulated"], "paddingInner": 0, "paddingOuter": 0.0744, "align": 0.93}},
                   "y": {"field": "v", "type": "quantitative", "scale": {"domain": [-45.46, 34.76], "nice": false, "zero": false}}
                 }}
              ]
            },
            {
              "data": {"values": [{"site": "CO (82 yr)"}, {"site": "KS (85 yr)"}]},
              "mark": {"type": "text", "text": ""},
              "encoding": {
                "x": {"field": "site", "type": "nominal", "sort": null, "scale": {"type": "band", "domain": ["CO (82 yr)", "KS (85 yr)"], "paddingInner": 0.063, "paddingOuter": 0.0446, "align": 0}, "axis": {"orient": "bottom", "ticks": false, "labelPadding": 37, "labelFontSize": 18, "labelAngle": 0, "title": null, "labelOverlap": false, "bandPosition": 0.5}}
              }
            }
          ],
          "resolve": {"scale": {"x": "independent"}, "axis": {"x": "independent"}}
        }
      ]
    }
  ]
}
]
}
